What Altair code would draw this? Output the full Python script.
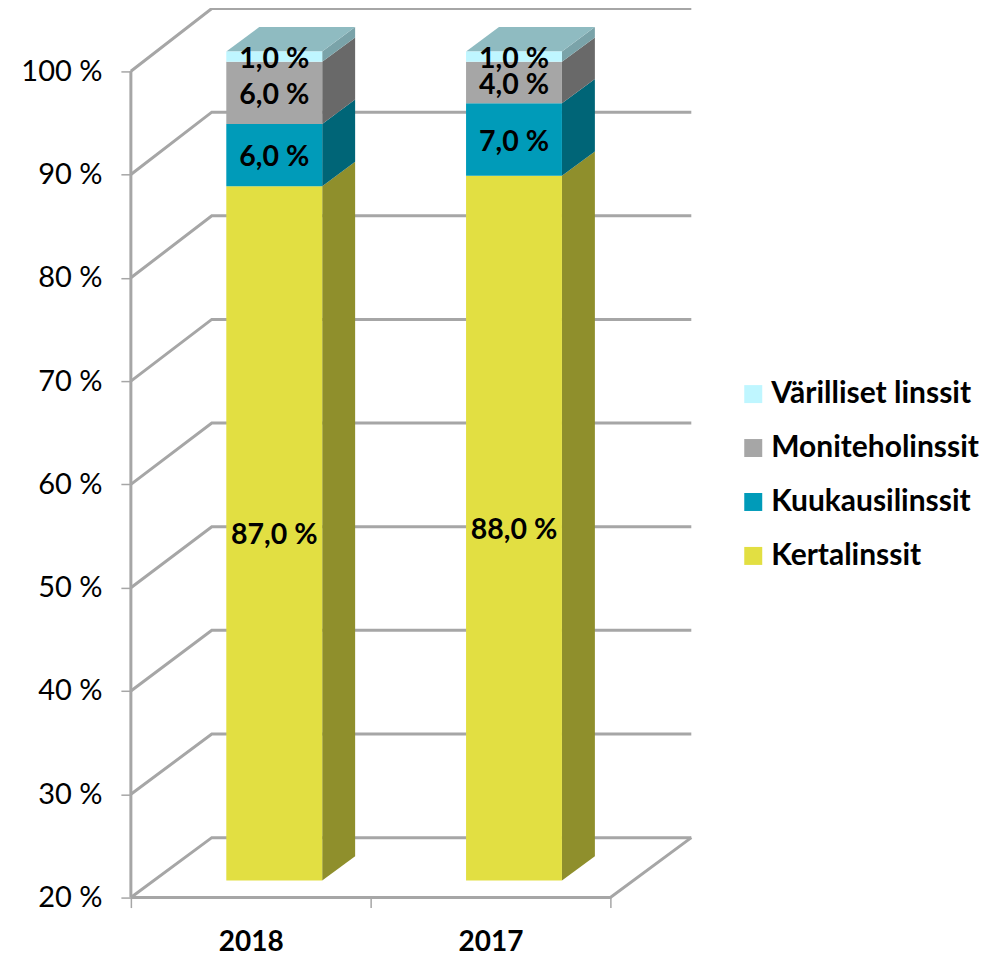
import altair as alt
import pandas as pd

FONT = "Lato"
GREY = "#a6a6a6"

years = ["2018", "2017"]
series = ["Kertalinssit", "Kuukausilinssit", "Moniteholinssit", "Värilliset linssit"]
legend_order = ["Värilliset linssit", "Moniteholinssit", "Kuukausilinssit", "Kertalinssit"]
values_2018 = [87, 6, 6, 1]
values_2017 = [88, 7, 4, 1]
front_colors = ["#e2df42", "#009bb9", "#a6a6a6", "#bff6ff"]
side_colors = ["#8f8f2c", "#006577", "#696969", "#7aa3a9"]
top_color = "#8fbbc1"
axis_ticks = [20, 30, 40, 50, 60, 70, 80, 90, 100]

# Oblique projection of the 3D plot box into the 2D scales
PX_X = 240.0          # pixels per category
PX_Y = 10.34          # pixels per percent on the front plane
DEPTH_X = 81.0 / PX_X
DEPTH_Y = 60.0 / PX_Y
BACK_STRETCH = 10.375 / PX_Y
BAR_D0, BAR_D1 = 0.283, 0.69


def px(x, d):
    return x + d * DEPTH_X


def py(v, d):
    k = 1.0 if d == 0 else BACK_STRETCH
    return 20 + (v - 20) * k + d * DEPTH_Y


# Wall and floor lines
lines = []
for t in axis_ticks:
    lines += [
        dict(id=f"g{t}", i=0, x=px(0, 0), y=py(t, 0)),
        dict(id=f"g{t}", i=1, x=px(0, 1), y=py(t, 1)),
        dict(id=f"g{t}", i=2, x=px(2, 1), y=py(t, 1)),
    ]
lines += [
    dict(id="axis", i=0, x=0, y=py(20, 0)),
    dict(id="axis", i=1, x=0, y=py(100, 0)),
    dict(id="floor", i=0, x=0, y=py(20, 0)),
    dict(id="floor", i=1, x=2, y=py(20, 0)),
    dict(id="floor", i=2, x=px(2, 1), y=py(20, 1)),
]

fronts, sides, tops, labels = [], [], [], []
for c, (yr, vals) in enumerate(zip(years, [values_2018, values_2017])):
    left = c + (0.398 - BAR_D0 * DEPTH_X)
    right = left + 0.4
    cum = 0
    for s, v, fc, sc in zip(series, vals, front_colors, side_colors):
        lo, hi = max(cum, 20), cum + v
        fronts.append(dict(serie=s, x=px(left, BAR_D0), x2=px(right, BAR_D0),
                           y=py(lo, BAR_D0), y2=py(hi, BAR_D0)))
        for d in (BAR_D0, BAR_D1):
            sides.append(dict(id=f"{yr}{s}", fill=sc, x=px(right, d),
                              y=py(lo, d), y2=py(hi, d)))
        labels.append(dict(x=px((left + right) / 2, BAR_D0),
                           y=py((lo + hi) / 2, BAR_D0),
                           t=f"{v},0 %"))
        cum = hi
    for d in (BAR_D0, BAR_D1):
        tops.append(dict(id=yr, fill=top_color, y=py(100, d),
                         x=px(left, d), x2=px(right, d)))

X = alt.Scale(domain=[0, 561 / PX_X], nice=False, zero=False)
Y = alt.Scale(domain=[20, 20 + 890 / PX_Y], nice=False, zero=False)

x_axis = alt.Axis(
    values=[0, 0.5, 1, 1.5, 2], title=None, grid=False, domain=False,
    labelExpr="datum.value == 0.5 ? '2018' : datum.value == 1.5 ? '2017' : ''",
    labelFont=FONT, labelFontSize=28, labelFontWeight="bold", labelColor="black",
    labelPadding=21, labelFlush=False, labelOverlap=False,
    tickSize=10, tickWidth=1.5, tickColor=GREY,
    tickOpacity={"condition": {"test": "datum.value % 1 == 0", "value": 1}, "value": 0},
)
y_axis = alt.Axis(
    values=axis_ticks, title=None, grid=False, domain=False,
    labelExpr="datum.value + ' %'",
    labelFont=FONT, labelFontSize=29, labelColor="black", labelPadding=19,
    labelOverlap=False, labelFlush=False, labelBound=False,
    tickSize=10, tickWidth=1.5, tickColor=GREY,
)

grid = alt.Chart(pd.DataFrame(lines)).mark_line(color=GREY, strokeWidth=3).encode(
    x=alt.X("x:Q", scale=X, axis=x_axis),
    y=alt.Y("y:Q", scale=Y, axis=y_axis),
    detail="id:N",
    order="i:Q",
)
side = alt.Chart(pd.DataFrame(sides)).mark_area().encode(
    x=alt.X("x:Q", scale=X),
    y=alt.Y("y:Q", scale=Y),
    y2="y2:Q",
    detail="id:N",
    color=alt.Color("fill:N", scale=None),
)
top = alt.Chart(pd.DataFrame(tops)).mark_area(orient="horizontal").encode(
    y=alt.Y("y:Q", scale=Y),
    x=alt.X("x:Q", scale=X),
    x2="x2:Q",
    detail="id:N",
    color=alt.Color("fill:N", scale=None),
)
front = alt.Chart(pd.DataFrame(fronts)).mark_bar().encode(
    x=alt.X("x:Q", scale=X),
    x2="x2:Q",
    y=alt.Y("y:Q", scale=Y),
    y2="y2:Q",
    color=alt.Color(
        "serie:N",
        scale=alt.Scale(domain=legend_order,
                        range=[front_colors[series.index(s)] for s in legend_order]),
        legend=alt.Legend(
            title=None, orient="none", legendX=608, legendY=371,
            symbolType="square", symbolSize=324, symbolStrokeWidth=0,
            labelFont=FONT, labelFontSize=30, labelFontWeight="bold", labelColor="black",
            labelOffset=3, rowPadding=24, labelLimit=300,
        ),
    ),
)
text = alt.Chart(pd.DataFrame(labels)).mark_text(
    font=FONT, fontSize=28.5, fontWeight="bold", color="black", baseline="middle", dy=2
).encode(
    x=alt.X("x:Q", scale=X),
    y=alt.Y("y:Q", scale=Y),
    text="t:N",
)

chart = (
    alt.layer(grid, side, top, front, text)
    .resolve_scale(color="independent")
    .properties(
        width=561,
        height=890,
        padding={"left": 123, "top": 0, "right": 300, "bottom": 60},
        autosize=alt.AutoSizeParams(type="none"),
    )
    .configure_view(stroke=None)
)
chart.save("out.html", embed_options={"renderer": "svg", "actions": False})
